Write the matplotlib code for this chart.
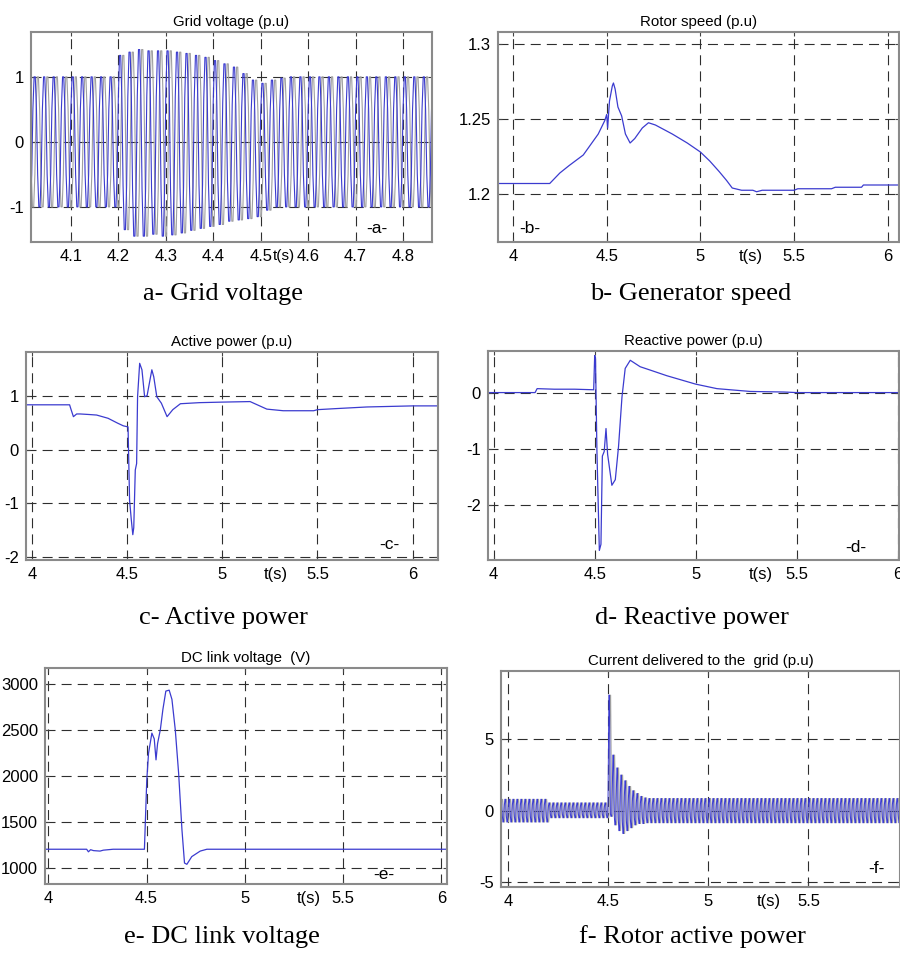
import numpy as np
import matplotlib.pyplot as plt

plt.rcParams['font.family'] = ['Liberation Sans Narrow', 'Liberation Sans', 'DejaVu Sans']

BLUE = '#3b3bcf'
GREY = '#a0a0a0'

# a - grid voltage, 50 Hz, positive / negative peak of each cycle
a_t0 = 4.0
a_period = 0.02
a_hi = [1.0] * 10 + [1.33, 1.38, 1.42, 1.40, 1.40, 1.40, 1.38, 1.36, 1.33, 1.30,
                     1.25, 1.20, 1.15, 1.05, 0.95] + [0.90, 0.95, 0.98] + [1.0] * 16
a_lo = [-1.0] * 10 + [-1.35, -1.45, -1.45, -1.42, -1.45, -1.43, -1.40, -1.36, -1.33, -1.30,
                      -1.27, -1.22, -1.20, -1.18, -1.15] + [-1.05, -1.0, -1.0] + [-1.0] * 16
half_shape = [0.5, 1.0, 1.0, 0.5]

# b - rotor speed
b_t = [3.92, 4.196, 4.25, 4.3, 4.375, 4.455, 4.49, 4.5, 4.505, 4.515, 4.53, 4.536, 4.545,
       4.56, 4.58, 4.6, 4.625, 4.65, 4.69, 4.723, 4.76, 4.85, 4.93, 5.0, 5.05, 5.1, 5.14,
       5.17, 5.22, 5.28, 5.30, 5.33, 5.5, 5.52, 5.7, 5.72, 5.86, 5.87, 6.06]
b_v = [1.207, 1.207, 1.214, 1.219, 1.226, 1.240, 1.249, 1.253, 1.244, 1.262, 1.272, 1.274,
       1.27, 1.258, 1.252, 1.240, 1.234, 1.237, 1.244, 1.2475, 1.246, 1.240, 1.234, 1.228,
       1.222, 1.215, 1.209, 1.204, 1.2025, 1.2025, 1.2015, 1.2025, 1.2025, 1.2035, 1.2035,
       1.2045, 1.2045, 1.206, 1.206]

# c - active power
c_t = [3.969, 4.198, 4.205, 4.218, 4.235, 4.254, 4.30, 4.34, 4.40, 4.45, 4.48, 4.505, 4.513,
       4.522, 4.53, 4.535, 4.543, 4.55, 4.555, 4.566, 4.578, 4.592, 4.605, 4.63, 4.64, 4.656,
       4.68, 4.71, 4.74, 4.78, 4.88, 5.0, 5.146, 5.19, 5.234, 5.32, 5.48, 5.50, 5.60, 5.76,
       6.0, 6.133]
c_v = [0.83, 0.83, 0.75, 0.61, 0.66, 0.66, 0.65, 0.64, 0.58, 0.49, 0.44, 0.42, -0.94, -1.30,
       -1.58, -1.45, -0.38, -0.26, 0.98, 1.60, 1.48, 0.98, 1.00, 1.48, 1.35, 0.98, 0.86, 0.61,
       0.74, 0.85, 0.87, 0.88, 0.89, 0.82, 0.75, 0.72, 0.72, 0.74, 0.76, 0.79, 0.81, 0.81]

# d - reactive power
d_t = [3.972, 4.205, 4.215, 4.3, 4.4, 4.495, 4.5, 4.504, 4.511, 4.523, 4.531, 4.538, 4.547,
       4.556, 4.564, 4.585, 4.602, 4.618, 4.635, 4.651, 4.676, 4.725, 4.775, 4.857, 5.0,
       5.105, 5.27, 5.435, 5.5, 6.006]
d_v = [0.0, 0.0, 0.07, 0.06, 0.06, 0.05, 0.66, 0.6, -1.03, -2.81, -2.7, -1.13, -1.05, -0.64,
       -1.1, -1.65, -1.55, -0.96, -0.08, 0.43, 0.575, 0.46, 0.40, 0.30, 0.15, 0.07, 0.02,
       0.01, 0.0, 0.0]

# e - DC link voltage
e_t = [3.983, 4.195, 4.204, 4.215, 4.23, 4.263, 4.28, 4.33, 4.489, 4.501, 4.51, 4.527, 4.539,
       4.548, 4.556, 4.57, 4.583, 4.598, 4.615, 4.629, 4.646, 4.663, 4.68, 4.693, 4.705, 4.73,
       4.773, 4.807, 6.029]
e_v = [1200, 1200, 1172, 1195, 1185, 1180, 1190, 1200, 1200, 1954, 2245, 2463, 2400, 2172,
       2350, 2500, 2720, 2920, 2930, 2830, 2500, 2030, 1412, 1050, 1036, 1120, 1180, 1200, 1200]

# f - current delivered to the grid, peaks per cycle
f_t0 = 3.96
f_period = 0.02
f_hi = [0.8] * 12 + [0.55] * 15 + [8.1, 3.9, 3.0, 2.5, 2.1, 1.7, 1.4, 1.2, 1.0, 0.9] + [0.85] * 63
f_lo = [-0.8] * 12 + [-0.5] * 15 + [-0.4, -1.0, -1.4, -1.6, -1.4, -1.2, -1.0, -0.9, -0.9,
                                    -0.85] + [-0.85] * 63

captions = ['a- Grid voltage', 'b- Generator speed', 'c- Active power',
            'd- Reactive power', 'e- DC link voltage', 'f- Rotor active power']


def wave(t0, period, hi, lo, shift=0.0):
    shape = np.asarray(half_shape)
    vals = np.column_stack([np.outer(hi, shape), np.outer(lo, shape)]).ravel()
    t = t0 + shift + np.arange(vals.size) * period / (2 * len(half_shape))
    return t, vals


fig = plt.figure(figsize=(9, 9.56), dpi=100)


def px_axes(left, top, right, bottom):
    return fig.add_axes([left / 900, 1 - bottom / 956, (right - left) / 900, (bottom - top) / 956])


def style(ax, xlim, ylim, xticks, xlabels, yticks, ylabels, title, tag, tag_xy, ts_x, ts_size=12):
    ax.set_xlim(xlim)
    ax.set_ylim(ylim)
    ax.set_xticks(xticks, xlabels)
    ax.set_yticks(yticks, ylabels)
    ax.grid(True, color='#2e2e2e', linestyle=(0, (9, 5.5)), linewidth=0.8)
    ax.tick_params(direction='in', length=3, labelsize=12, pad=5, top=True, right=True,
                   color='#444444')
    for s in ax.spines.values():
        s.set_color('#8a8a8a')
        s.set_linewidth(1.5)
    ax.set_title(title, fontsize=10.8, pad=4)
    ax.text(tag_xy[0], tag_xy[1], tag, fontsize=12.5, ha='center', va='center')
    ax.annotate('t(s)', xy=(ts_x, 0), xycoords=('data', 'axes fraction'), xytext=(0, -5),
                textcoords='offset points', fontsize=ts_size, ha='center', va='top')


# a
ax = px_axes(31, 32, 432, 242)
t, v = wave(a_t0, a_period, a_hi, a_lo, shift=a_period / 3)
ax.plot(t, v, color=GREY, lw=0.8)
t, v = wave(a_t0, a_period, a_hi, a_lo)
ax.plot(t, v, color=BLUE, lw=0.8)
style(ax, (4.016, 4.861), (-1.54, 1.69), [4.1, 4.2, 4.3, 4.4, 4.5, 4.6, 4.7, 4.8],
      ['4.1', '4.2', '4.3', '4.4', '4.5', '4.6', '4.7', '4.8'], [-1, 0, 1], ['-1', '0', '1'],
      'Grid voltage (p.u)', '-a-', (4.745, -1.33), 4.549, ts_size=11)

# b
ax = px_axes(498, 32, 899, 242)
ax.plot(b_t, b_v, color=BLUE, lw=0.9)
style(ax, (3.92, 6.06), (1.168, 1.308), [4, 4.5, 5, 5.5, 6], ['4', '4.5', '5', '5.5', '6'],
      [1.2, 1.25, 1.3], ['1.2', '1.25', '1.3'], 'Rotor speed (p.u)', '-b-', (4.089, 1.177), 5.27)

# c
ax = px_axes(26, 352, 438, 560)
ax.plot(c_t, c_v, color=BLUE, lw=0.9)
style(ax, (3.969, 6.133), (-2.05, 1.81), [4, 4.5, 5, 5.5, 6], ['4', '4.5', '5', '5.5', '6'],
      [-2, -1, 0, 1], ['-2', '-1', '0', '1'], 'Active power (p.u)', '-c-', (5.876, -1.77), 5.28)

# d
ax = px_axes(488, 351, 899, 560)
ax.plot(d_t, d_v, color=BLUE, lw=0.9)
style(ax, (3.972, 6.006), (-2.98, 0.74), [4, 4.5, 5, 5.5, 6], ['4', '4.5', '5', '5.5', '6'],
      [-2, -1, 0], ['-2', '-1', '0'], 'Reactive power (p.u)', '-d-', (5.79, -2.75), 5.32)

# e
ax = px_axes(45, 668, 447, 884)
ax.plot(e_t, e_v, color=BLUE, lw=0.9)
style(ax, (3.983, 6.029), (822, 3171), [4, 4.5, 5, 5.5, 6], ['4', '4.5', '5', '5.5', '6'],
      [1000, 1500, 2000, 2500, 3000], ['1000', '1500', '2000', '2500', '3000'],
      'DC link voltage  (V)', '-e-', (5.707, 920), 5.325)

# f
ax = px_axes(501, 671, 900, 887)
t, v = wave(f_t0, f_period, f_hi, f_lo, shift=f_period / 3)
ax.plot(t, v, color=GREY, lw=0.6)
t, v = wave(f_t0, f_period, f_hi, f_lo)
ax.plot(t, v, color=BLUE, lw=0.7)
style(ax, (3.963, 5.958), (-5.35, 9.79), [4, 4.5, 5, 5.5], ['4', '4.5', '5', '5.5'],
      [-5, 0, 5], ['-5', '0', '5'], 'Current delivered to the  grid (p.u)', '-f-',
      (5.84, -4.06), 5.3)

cap_xy = [(223, 294), (691, 294), (223, 618), (692, 618), (222, 937), (692, 937)]
for (x, y), txt in zip(cap_xy, captions):
    fig.text(x / 900, 1 - y / 956, txt, ha='center', va='center',
             family=['Liberation Serif', 'DejaVu Serif'], fontsize=19)

fig.savefig('out.png', dpi=100)
